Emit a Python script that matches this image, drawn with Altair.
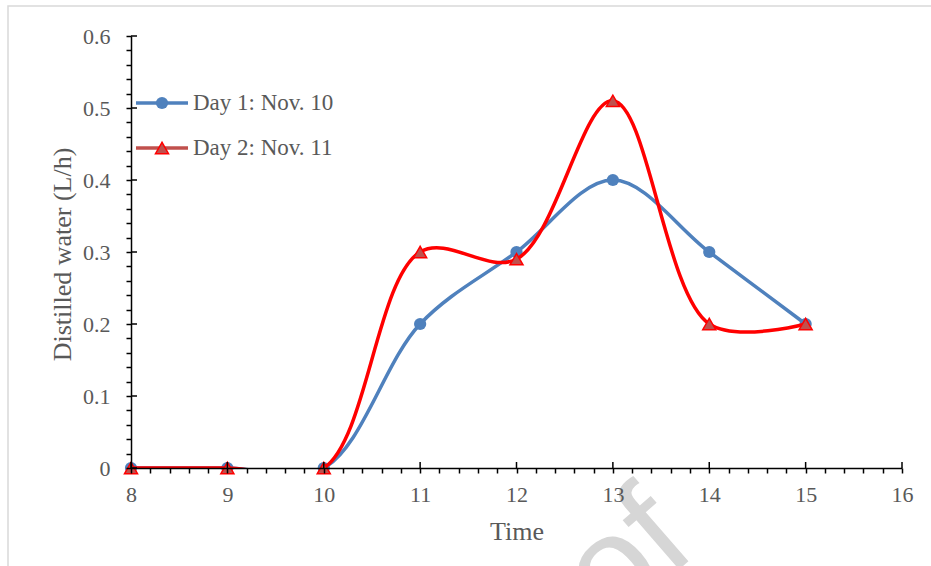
import altair as alt
import pandas as pd

# ---- data ----
times = [8, 9, 10, 11, 12, 13, 14, 15]
day1 = [0, 0, 0, 0.2, 0.3, 0.4, 0.3, 0.2]
day2 = [0, 0, 0, 0.3, 0.29, 0.51, 0.2, 0.2]
series_names = ["Day 1: Nov. 10", "Day 2: Nov. 11"]
x_major = [8, 9, 10, 11, 12, 13, 14, 15, 16]
y_major = [0, 0.1, 0.2, 0.3, 0.4, 0.5, 0.6]
x_ticks = [round(8 + 0.2 * i, 1) for i in range(41)]
y_ticks = [round(0.02 * i, 2) for i in range(31)]

W, H = 771, 432
SERIF = "Liberation Serif"
TXT = "#595959"
BLUE = "#4F81BD"
RED = "#FF0000"
RED_FILL = "#C0504D"

df = pd.DataFrame({
    "time": times * 2,
    "value": day1 + day2,
    "series": [series_names[0]] * len(times) + [series_names[1]] * len(times),
})
d1 = df[df.series == series_names[0]]
d2 = df[df.series == series_names[1]]

xscale = alt.Scale(domain=[8, 16], nice=False, zero=False)
yscale = alt.Scale(domain=[0, 0.6], nice=False, zero=False)

xaxis = alt.Axis(
    values=x_ticks,
    labelExpr="abs(datum.value - round(datum.value)) < 0.001 ? format(datum.value, 'd') : ''",
    labelOverlap=False, labelFlush=False, tickSize=5, labelPadding=11, title="Time",
    titleY=71, titleBaseline="alphabetic", titleFontSize=26, zindex=1,
)
yaxis = alt.Axis(
    values=y_ticks,
    labelExpr="abs(datum.value*10 - round(datum.value*10)) < 0.001 ? (datum.value == 0 ? '0' : format(datum.value, '.1f')) : ''",
    labelOverlap=False, labelFlush=False, tickSize=5, labelPadding=16, title="Distilled water (L/h)",
    titleX=-69, titleY=H / 2 + 2, titleAngle=270, titleBaseline="middle", titleAlign="center",
    titleFontSize=26, zindex=1,
)

X = alt.X("time:Q", scale=xscale, axis=xaxis)
Y = alt.Y("value:Q", scale=yscale, axis=yaxis)

one = pd.DataFrame({"k": [0]})

# outer frame (decorative)
frame = alt.Chart(one).mark_rect(fillOpacity=0, stroke="#d9d9d9", strokeWidth=1.5).encode(
    x=alt.value(-123), x2=alt.value(W + 60), y=alt.value(-30), y2=alt.value(H + 150)
)

# watermark
wm = alt.Chart(pd.DataFrame({"t": ["Proof"]})).mark_text(
    angle=319, align="right", baseline="alphabetic", font="Liberation Sans",
    fontSize=140, color="#d6d6d6"
).encode(x=alt.value(568), y=alt.value(516), text="t:N")

line1 = alt.Chart(d1).mark_line(interpolate="catmull-rom", color=BLUE, strokeWidth=3.5, clip=True).encode(x=X, y=Y)
pts1 = alt.Chart(d1).mark_point(shape="circle", filled=True, size=150, color=BLUE, opacity=1).encode(x=X, y=Y)
line2 = alt.Chart(d2).mark_line(interpolate="catmull-rom", color=RED, strokeWidth=3.5, clip=True).encode(x=X, y=Y)
pts2 = alt.Chart(d2).mark_point(shape="triangle-up", filled=True, size=170, fill=RED_FILL,
                                stroke=RED, strokeWidth=1.5, opacity=1).encode(x=X, y=Y)

# inward half of major ticks
xmaj = alt.Chart(pd.DataFrame({"time": x_major})).mark_rule(color="black", strokeWidth=1.5).encode(
    x=X, y=alt.value(H), y2=alt.value(H - 6)
)
ymaj = alt.Chart(pd.DataFrame({"value": y_major})).mark_rule(color="black", strokeWidth=1.5).encode(
    y=Y, x=alt.value(0), x2=alt.value(6)
)

# manual legend
def legend_entry(name, ypix, line_color, marker):
    base = alt.Chart(pd.DataFrame({"name": [name]}))
    ln = base.mark_rule(color=line_color, strokeWidth=3.5).encode(
        x=alt.value(5), x2=alt.value(57), y=alt.value(ypix))
    if marker == "circle":
        mk = base.mark_point(shape="circle", filled=True, size=150, color=BLUE, opacity=1).encode(
            x=alt.value(31), y=alt.value(ypix))
    else:
        mk = base.mark_point(shape="triangle-up", filled=True, size=170, fill=RED_FILL,
                             stroke=RED, strokeWidth=1.5, opacity=1).encode(
            x=alt.value(31), y=alt.value(ypix))
    tx = base.mark_text(align="left", baseline="middle", font=SERIF, fontSize=23, color=TXT).encode(
        x=alt.value(62), y=alt.value(ypix), text="name:N")
    return [ln, mk, tx]

leg = legend_entry(series_names[0], 67, BLUE, "circle") + legend_entry(series_names[1], 112, RED_FILL, "triangle")

chart = alt.layer(
    frame, wm, line1, pts1, line2, pts2, xmaj, ymaj, *leg
).properties(
    width=W, height=H,
    autosize=alt.AutoSizeParams(type="none"),
    padding={"left": 131, "top": 36, "right": 29, "bottom": 98},
    background="white",
).configure_view(stroke=None).configure_axis(
    labelFont=SERIF, labelFontSize=22, labelColor=TXT,
    titleFont=SERIF, titleColor=TXT, titleFontWeight="normal",
    domainColor="black", domainWidth=1.5, tickColor="black", tickWidth=1.5, grid=False,
)

chart.save("out.html", embed_options={"renderer": "svg", "actions": False})
